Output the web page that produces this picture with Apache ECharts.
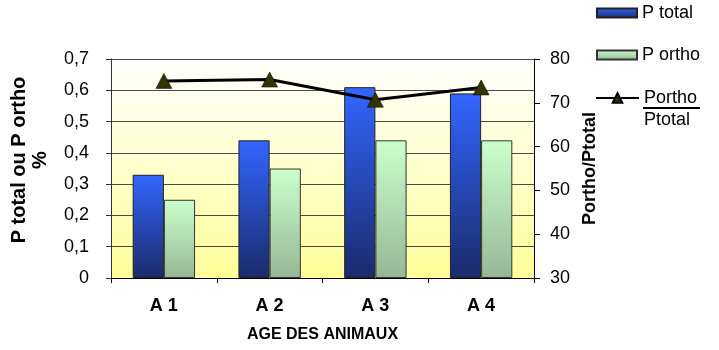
<!DOCTYPE html>
<html>
<head>
<meta charset="utf-8">
<script src="https://cdn.jsdelivr.net/npm/echarts@6/dist/echarts.min.js"></script>
<style>
  html, body { margin: 0; padding: 0; background: #fff; }
  #chart { width: 719px; height: 350px; }
</style>
</head>
<body>
<div id="chart"></div>
<script>
// Ages of the animals
const categories = ['A 1', 'A 2', 'A 3', 'A 4'];
// Phosphorus (%)
const pTotal = [0.33, 0.44, 0.61, 0.59];
const pOrtho = [0.25, 0.35, 0.44, 0.44];
// Ratio Portho / Ptotal (%)
const ratio = [75.0, 75.3, 70.7, 73.5];

const FONT = '"Liberation Sans", Arial, sans-serif';

const grad = (top, bottom) => new echarts.graphic.LinearGradient(0, 0, 0, 1, [
  { offset: 0, color: top }, { offset: 1, color: bottom }
]);

const chart = echarts.init(document.getElementById('chart'), null, { renderer: 'canvas' });

const legendBase = {
  orient: 'vertical',
  padding: 0,
  itemWidth: 40,
  itemHeight: 9,
  icon: 'rect',
  textStyle: { fontFamily: FONT, fontSize: 18, color: '#000' },
  selectedMode: false
};

chart.setOption({
  animation: false,
  backgroundColor: '#fff',
  grid: {
    left: 111, right: 185, top: 59, bottom: 72,
    show: true,
    borderWidth: 0,
    backgroundColor: grad('#FFFFFF', '#FFFF99')
  },
  legend: [
    Object.assign({}, legendBase, { data: ['P total'], left: 596, top: 4 }),
    Object.assign({}, legendBase, { data: ['P ortho'], left: 596, top: 46 }),
    Object.assign({}, legendBase, {
      data: ['Portho/Ptotal'], left: 595, top: 67,
      icon: null,
      itemWidth: 43, itemHeight: 12,
      formatter: () => '{e| }\n{n|Portho}\n{d|Ptotal}',
      textStyle: {
        fontFamily: FONT, fontSize: 18, color: '#000',
        rich: {
          e: { fontFamily: FONT, fontSize: 18, lineHeight: 22 },
          n: { fontFamily: FONT, fontSize: 18, lineHeight: 22 },
          d: { fontFamily: FONT, fontSize: 18, lineHeight: 22 }
        }
      }
    })
  ],
  graphic: [
    // fraction bar between Portho and Ptotal
    { type: 'line', shape: { x1: 643, y1: 108, x2: 700, y2: 108 },
      style: { stroke: '#000', lineWidth: 2 } }
  ],
  xAxis: {
    type: 'category',
    data: categories,
    name: 'AGE DES ANIMAUX',
    nameLocation: 'middle',
    nameGap: 49,
    nameTextStyle: { fontFamily: FONT, fontSize: 16, fontWeight: 'bold', color: '#000' },
    axisLine: { lineStyle: { color: '#000', width: 1 } },
    axisTick: { show: true, length: 5, lineStyle: { color: '#000' } },
    axisLabel: { margin: 19, fontFamily: FONT, fontSize: 18, fontWeight: 'bold', color: '#000' }
  },
  yAxis: [
    {
      type: 'value',
      min: 0, max: 0.7, interval: 0.1,
      name: 'P total ou P ortho\n%',
      nameLocation: 'middle',
      nameRotate: 90,
      nameGap: 60,
      nameTextStyle: { fontFamily: FONT, fontSize: 20, fontWeight: 'bold', color: '#000', lineHeight: 21, padding: [0, 0, 0, 17] },
      axisLine: { show: true, lineStyle: { color: '#333', width: 1 } },
      axisTick: { show: true, length: 5, lineStyle: { color: '#333' } },
      axisLabel: {
        margin: 22, fontFamily: FONT, fontSize: 18, color: '#000',
        formatter: v => (v === 0 ? '0' : v.toFixed(1).replace('.', ','))
      },
      splitLine: { show: true, lineStyle: { color: '#4a4a4a', width: 1 } }
    },
    {
      type: 'value',
      min: 30, max: 80, interval: 10,
      position: 'right',
      name: 'Portho/Ptotal',
      nameLocation: 'middle',
      nameRotate: 90,
      nameGap: 46,
      nameTextStyle: { fontFamily: FONT, fontSize: 18, fontWeight: 'bold', color: '#000' },
      axisLine: { show: true, lineStyle: { color: '#000', width: 1 } },
      axisTick: { show: true, length: 6, lineStyle: { color: '#000' } },
      axisLabel: { margin: 16, fontFamily: FONT, fontSize: 18, color: '#000' },
      splitLine: { show: false }
    }
  ],
  series: [
    {
      name: 'P total',
      type: 'bar',
      data: pTotal,
      barGap: '0%',
      barCategoryGap: '41%',
      itemStyle: { color: grad('#3366FF', '#1A2B6B'), borderColor: '#222', borderWidth: 1 }
    },
    {
      name: 'P ortho',
      type: 'bar',
      data: pOrtho,
      itemStyle: { color: grad('#CCFFCC', '#96B796'), borderColor: '#333', borderWidth: 1 }
    },
    {
      name: 'Portho/Ptotal',
      type: 'line',
      yAxisIndex: 1,
      data: ratio,
      symbol: 'triangle',
      symbolSize: [16, 15],
      lineStyle: { color: '#000', width: 3 },
      itemStyle: { color: '#333300', borderColor: '#000', borderWidth: 0.5 },
      z: 5
    }
  ]
});
</script>
</body>
</html>
